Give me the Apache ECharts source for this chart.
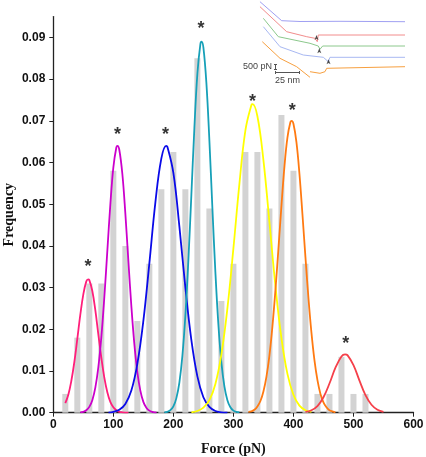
<!DOCTYPE html>
<html><head><meta charset="utf-8">
<script src="https://cdn.jsdelivr.net/npm/echarts@6/dist/echarts.min.js"></script>
<style>html,body{margin:0;padding:0;background:#fff}#c{width:426px;height:457px}</style>
</head><body><div id="c"></div>
<script>
// Histogram (force bins in pN, frequency)
const forceBins = [20,40,60,80,100,120,140,160,180,200,220,240,260,280,300,320,340,360,380,400,420,440,460,480,500,520];
const frequency = [0.0045,0.018,0.031,0.031,0.058,0.040,0.022,0.0357,0.0536,0.0625,0.0536,0.085,0.049,0.0268,0.0357,0.0625,0.0625,0.049,0.0714,0.058,0.0357,0.0045,0.0045,0.0134,0.0045,0.0045];

// Fitted peak curves: [force, frequency]
const fitPink = [[20,0.0023],[25,0.0043],[30,0.0076],[35,0.0121],[40,0.0177],[45,0.0235],[50,0.0284],[55,0.0315],[58,0.032],[60,0.0318],[65,0.0292],[70,0.0246],[75,0.0188],[80,0.0132],[85,0.0084],[90,0.0049],[95,0.0026],[100,0.0013],[105,0.0006],[110,0.0002],[115,0.0001],[125,0]];
const fitMagenta = [[45,0.0001],[50,0.0002],[55,0.0006],[60,0.0014],[65,0.0030],[70,0.0060],[75,0.0109],[80,0.0181],[85,0.0277],[90,0.0388],[95,0.0499],[100,0.0588],[105,0.0636],[107,0.064],[110,0.0630],[115,0.0573],[120,0.0478],[125,0.0365],[130,0.0256],[135,0.0165],[140,0.0097],[145,0.0053],[150,0.0026],[155,0.0012],[160,0.0005],[165,0.0002],[172,0]];
const fitBlue = [[92,0],[100,0.0002],[110,0.0007],[120,0.0021],[130,0.0053],[140,0.0117],[150,0.0220],[160,0.0358],[170,0.0504],[180,0.0610],[188,0.064],[190,0.0638],[200,0.0575],[210,0.0447],[220,0.0300],[230,0.0174],[240,0.0087],[250,0.0037],[260,0.0014],[270,0.0004],[280,0.0001],[290,0]];
const fitCyan = [[185,0.0001],[190,0.0002],[195,0.0006],[200,0.0015],[205,0.0035],[210,0.0072],[215,0.0136],[220,0.0233],[225,0.0366],[230,0.0523],[235,0.0683],[240,0.0813],[245,0.0884],[247,0.089],[250,0.0876],[255,0.0791],[260,0.0653],[265,0.0491],[270,0.0337],[275,0.0211],[280,0.0120],[285,0.0063],[290,0.0030],[295,0.0013],[300,0.0005],[305,0.0002],[310,0.0001]];
const fitYellow = [[230,0.0001],[240,0.0004],[250,0.0012],[260,0.0030],[270,0.0069],[280,0.0140],[290,0.0250],[300,0.0394],[310,0.0549],[320,0.0677],[330,0.0738],[332,0.074],[340,0.0711],[350,0.0606],[360,0.0457],[370,0.0304],[380,0.0179],[390,0.0093],[400,0.0043],[410,0.0017],[420,0.0006],[430,0.0002]];
const fitOrange = [[325,0.0002],[330,0.0003],[335,0.0007],[340,0.0015],[345,0.0028],[350,0.0051],[355,0.0086],[360,0.0137],[365,0.0207],[370,0.0294],[375,0.0393],[380,0.0496],[385,0.0590],[390,0.0660],[395,0.0697],[397,0.070],[400,0.0693],[405,0.0649],[410,0.0573],[415,0.0476],[420,0.0373],[425,0.0275],[430,0.0192],[435,0.0126],[440,0.0078],[445,0.0045],[450,0.0025],[455,0.0013],[460,0.0006],[465,0.0003],[470,0.0001]];
const fitRed = [[420,0.0002],[430,0.0006],[440,0.0016],[450,0.0037],[460,0.0070],[470,0.0108],[480,0.0135],[486,0.014],[490,0.0138],[500,0.0114],[510,0.0077],[520,0.0042],[530,0.0019],[540,0.0007],[550,0.0002]];

// Asterisk markers above each peak
const starForce = [58,107,187,246,332,398,487];
const starFreq  = [0.0358,0.0676,0.0676,0.093,0.0754,0.0732,0.0174];

// Inset force-extension traces (nm, pN, vertically offset)
const traceLavender = [[10.4,8830],[33.0,6930],[52.1,6850],[93.8,6870],[161.5,6830]];
const tracePink = [[10.4,8330],[38.2,5830],[59.1,5330],[67.7,5170],[70.1,4830],[71.1,5500],[161.5,5500]];
const traceGreen = [[13.9,7170],[29.5,5330],[62.5,4670],[71.1,4400],[72.9,4070],[75.7,4400],[161.5,4400]];
const traceLightBlue = [[13.9,6330],[31.25,4330],[55.5,3500],[76.4,3270],[81.6,2830],[83.3,3270],[161.5,3270]];
const traceOrangeA = [[12.8,4830],[31.25,3170],[48.6,2330],[62.5,1270]];
const traceOrangeB = [[62.5,1830],[72.9,1670],[78.1,1830],[79.9,2170],[161.5,2330]];
const arrowMarks = [[69.3,5500],[72.2,4170],[81.8,3070]];

const yTicks = [0,0.01,0.02,0.03,0.04,0.05,0.06,0.07,0.08,0.09];

const chart = echarts.init(document.getElementById('c'), null, {renderer:'canvas'});
function fit(data, color){
  return {type:'line', data, xAxisIndex:0, yAxisIndex:0, smooth:0.4, symbol:'none',
    lineStyle:{color, width:1.8}, z:3, silent:true};
}
function trace(data, color){
  return {type:'line', data, xAxisIndex:1, yAxisIndex:1, smooth:false, symbol:'none',
    lineStyle:{color, width:1}, z:2, silent:true};
}
chart.setOption({
  animation:false,
  backgroundColor:'#fff',
  grid:[
    {left:53.3, right:12.5, top:16.6, bottom:44.3, containLabel:false, outerBoundsMode:'none'},
    {left:250, top:0, width:160, height:90, containLabel:false, outerBoundsMode:'none'}
  ],
  xAxis:[
    {type:'value', min:0, max:600, interval:100, gridIndex:0,
     name:'Force (pN)', nameLocation:'middle', nameGap:30, nameMoveOverlap:false,
     nameTextStyle:{fontFamily:'Liberation Serif', fontWeight:'bold', fontSize:14, color:'#111'},
     axisLine:{show:true, lineStyle:{color:'#222', width:1.3}},
     axisTick:{show:true, length:4, lineStyle:{color:'#222'}},
     axisLabel:{fontFamily:'Liberation Sans', fontWeight:'bold', fontSize:12, color:'#111', margin:6},
     splitLine:{show:false}},
    {type:'value', min:0, max:166.7, gridIndex:1, show:false}
  ],
  yAxis:[
    {type:'value', min:0, max:0.095, gridIndex:0,
     name:'Frequency', nameLocation:'middle', nameGap:37, nameMoveOverlap:false,
     nameTextStyle:{fontFamily:'Liberation Serif', fontWeight:'bold', fontSize:14, color:'#111'},
     axisLine:{show:true, lineStyle:{color:'#222', width:1.3}},
     axisTick:{show:true, length:4, lineStyle:{color:'#222'}, customValues:yTicks},
     axisLabel:{fontFamily:'Liberation Sans', fontWeight:'bold', fontSize:12, color:'#111', margin:8,
       customValues:yTicks, formatter:v=>v.toFixed(2)},
     splitLine:{show:false}},
    {type:'value', min:0, max:9000, gridIndex:1, show:false}
  ],
  series:[
    {type:'bar', data:forceBins.map((f,i)=>[f,frequency[i]]), barWidth:6,
     itemStyle:{color:'#d3d3d3'}, z:1, silent:true},
    fit(fitPink,'#ff1f7a'),
    fit(fitMagenta,'#cc00cc'),
    fit(fitBlue,'#0a0ae8'),
    fit(fitCyan,'#17a0b8'),
    fit(fitYellow,'#ffff00'),
    fit(fitOrange,'#ff7a12'),
    fit(fitRed,'#f5404a'),
    {type:'scatter', data:starForce.map((f,i)=>[f,starFreq[i]]), symbolSize:2,
     itemStyle:{color:'rgba(0,0,0,0)'}, z:5, silent:true,
     label:{show:true, position:'inside', formatter:'*', offset:[0,4],
       fontFamily:'Liberation Sans', fontWeight:'bold', fontSize:18, color:'#000'}},
    trace(traceLavender,'#a0a0f2'),
    trace(tracePink,'#f28c8c'),
    trace(traceGreen,'#8cc88c'),
    trace(traceLightBlue,'#a8b8f2'),
    trace(traceOrangeA,'#f7a040'),
    trace(traceOrangeB,'#f7a040'),
    {type:'scatter', xAxisIndex:1, yAxisIndex:1, data:arrowMarks, symbol:'arrow',
     symbolSize:[3,5], itemStyle:{color:'#222'}, z:4, silent:true}
  ],
  graphic:[
    {type:'text', x:272, y:67, style:{text:'500 pN', align:'right', verticalAlign:'middle', fontFamily:'Liberation Sans', fontSize:9, fill:'#444'}},
    {type:'line', shape:{x1:275.5,y1:64.5,x2:275.5,y2:69.5}, style:{stroke:'#555', lineWidth:1}},
    {type:'line', shape:{x1:274,y1:64.5,x2:277,y2:64.5}, style:{stroke:'#555', lineWidth:1}},
    {type:'line', shape:{x1:274,y1:69.5,x2:277,y2:69.5}, style:{stroke:'#555', lineWidth:1}},
    {type:'line', shape:{x1:275.5,y1:72.5,x2:299.5,y2:72.5}, style:{stroke:'#555', lineWidth:1}},
    {type:'line', shape:{x1:275.5,y1:71,x2:275.5,y2:74}, style:{stroke:'#555', lineWidth:1}},
    {type:'line', shape:{x1:299.5,y1:71,x2:299.5,y2:74}, style:{stroke:'#555', lineWidth:1}},
    {type:'text', x:287.5, y:80.5, style:{text:'25 nm', align:'center', verticalAlign:'middle', fontFamily:'Liberation Sans', fontSize:9, fill:'#444'}}
  ]
});
</script></body></html>
